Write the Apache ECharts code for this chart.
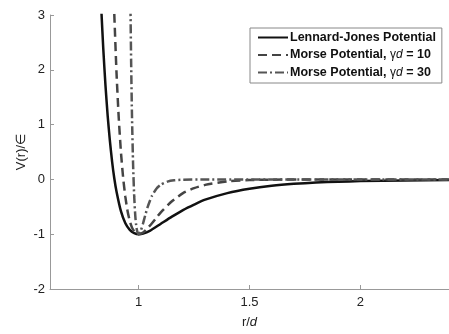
<!DOCTYPE html>
<html>
<head>
<meta charset="utf-8">
<script src="https://cdn.jsdelivr.net/npm/echarts@6/dist/echarts.min.js"></script>
<style>html,body{margin:0;padding:0;background:#fff}#c{width:449px;height:334px}</style>
</head>
<body>
<div id="c"></div>
<script>
// r/d values and V(r)/eps values
const ljR = [0.832, 0.84, 0.85, 0.86, 0.87, 0.88, 0.89, 0.90, 0.92, 0.94, 0.96, 0.98, 1.00, 1.02, 1.05, 1.10, 1.15, 1.20, 1.25, 1.30, 1.40, 1.50, 1.60, 1.70, 1.80, 1.90, 2.00, 2.20, 2.40];
const ljV = [3.06, 2.41, 1.73, 1.17, 0.71, 0.33, 0.02, -0.22, -0.58, -0.80, -0.92, -0.98, -1.00, -0.99, -0.94, -0.81, -0.68, -0.56, -0.46, -0.37, -0.25, -0.17, -0.116, -0.081, -0.058, -0.042, -0.031, -0.018, -0.010];

const m10R = [0.89, 0.90, 0.91, 0.92, 0.93, 0.94, 0.95, 0.96, 0.97, 0.98, 0.99, 1.00, 1.02, 1.04, 1.06, 1.08, 1.10, 1.15, 1.20, 1.25, 1.30, 1.40, 1.50, 1.60, 1.80, 2.40];
const m10V = [3.02, 1.95, 1.13, 0.50, 0.03, -0.32, -0.58, -0.76, -0.88, -0.95, -0.99, -1.00, -0.97, -0.89, -0.80, -0.70, -0.60, -0.40, -0.25, -0.16, -0.10, -0.036, -0.013, -0.005, -0.001, 0];

const m30R = [0.963, 0.966, 0.970, 0.975, 0.980, 0.985, 0.990, 0.995, 1.000, 1.010, 1.020, 1.030, 1.040, 1.050, 1.060, 1.080, 1.100, 1.130, 1.160, 1.200, 1.300, 2.400];
const m30V = [3.14, 2.15, 1.13, 0.25, -0.32, -0.68, -0.88, -0.97, -1.00, -0.93, -0.80, -0.65, -0.51, -0.40, -0.30, -0.17, -0.097, -0.040, -0.016, -0.005, 0, 0];

const seriesNames = ['Lennard-Jones Potential', 'Morse Potential, γd = 10', 'Morse Potential, γd = 30'];
const xTicks = [1, 1.5, 2];
const yTicks = [-2, -1, 0, 1, 2, 3];

const zip = (a, b) => a.map((v, i) => [v, b[i]]);

const chart = echarts.init(document.getElementById('c'), null, {renderer: 'canvas'});
const font = 'Arial, "Liberation Sans", sans-serif';
chart.setOption({
  animation: false,
  backgroundColor: '#fff',
  grid: {left: 50, right: -2, top: 15, bottom: 44, containLabel: false},
  legend: {
    orient: 'vertical',
    left: 250, top: 28,
    backgroundColor: '#fff',
    borderColor: '#888', borderWidth: 1,
    padding: [3, 6, 4, 7],
    itemWidth: 30, itemHeight: 14, itemGap: 4.5,
    itemStyle: {opacity: 0},
    data: seriesNames,
    formatter: function (n) {
      if (n.indexOf('γd') >= 0) {
        const p = n.split('γd');
        return p[0] + '{g|γ}{i|d}' + p[1];
      }
      return n;
    },
    textStyle: {
      fontFamily: font, fontSize: 12.5, fontWeight: 'bold', color: '#111', padding: [0, 0, 0, -3],
      rich: {
        g: {fontFamily: font, fontSize: 12, fontWeight: 'normal', color: '#111'},
        i: {fontFamily: font, fontSize: 12, fontStyle: 'italic', fontWeight: 'normal', color: '#111'}
      }
    }
  },
  xAxis: {
    type: 'value', min: 0.6, max: 2.4,
    name: 'r/{i|d}', nameLocation: 'middle', nameGap: 27, nameMoveOverlap: false,
    nameTextStyle: {fontFamily: font, fontSize: 13, color: '#222',
      rich: {i: {fontFamily: font, fontSize: 13, fontStyle: 'italic', color: '#222'}}},
    axisLine: {show: true, onZero: false, lineStyle: {color: '#999', width: 1}},
    axisTick: {show: true, inside: true, length: 4, customValues: xTicks, lineStyle: {color: '#999'}},
    axisLabel: {customValues: xTicks, fontFamily: font, fontSize: 13, color: '#222', margin: 7},
    splitLine: {show: false}
  },
  yAxis: {
    type: 'value', min: -2, max: 3, interval: 1,
    name: 'V(r)/∈', nameLocation: 'middle', nameGap: 22, nameMoveOverlap: false,
    nameTextStyle: {fontFamily: font, fontSize: 13, color: '#222'},
    axisLine: {show: true, onZero: false, lineStyle: {color: '#999', width: 1}},
    axisTick: {show: true, inside: true, length: 4, lineStyle: {color: '#999'}},
    axisLabel: {fontFamily: font, fontSize: 13, color: '#222', margin: 5,
      customValues: yTicks},
    splitLine: {show: false}
  },
  series: [
    {name: seriesNames[0], type: 'line', data: zip(ljR, ljV), symbol: 'none', smooth: 0.2,
     lineStyle: {color: '#111', width: 2.5, type: 'solid'}, itemStyle: {color: '#111'}},
    {name: seriesNames[1], type: 'line', data: zip(m10R, m10V), symbol: 'none', smooth: 0.2,
     lineStyle: {color: '#444', width: 2.5, type: [9, 5]}, itemStyle: {color: '#444'}},
    {name: seriesNames[2], type: 'line', data: zip(m30R, m30V), symbol: 'none', smooth: 0.2,
     lineStyle: {color: '#555', width: 2.5, type: [9, 3, 2, 3]}, itemStyle: {color: '#555'}}
  ]
});
</script>
</body>
</html>
